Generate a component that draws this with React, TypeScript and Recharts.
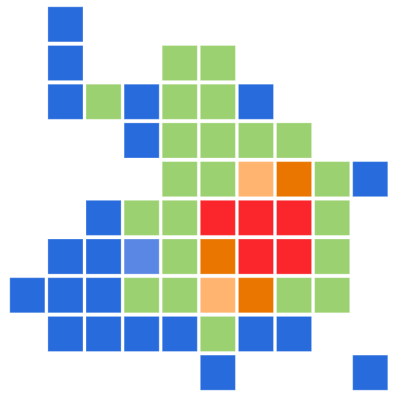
import { ScatterChart, Scatter, XAxis, YAxis } from "recharts";

// grid cells: column, row (row 0 = top), density level
const cols = [
  1,
  1, 4, 5,
  1, 2, 3, 4, 5, 6,
  3, 4, 5, 6, 7,
  4, 5, 6, 7, 8, 9,
  2, 3, 4, 5, 6, 7, 8,
  1, 2, 3, 4, 5, 6, 7, 8,
  0, 1, 2, 3, 4, 5, 6, 7, 8,
  1, 2, 3, 4, 5, 6, 7,
  5, 9,
];
const rows = [
  0,
  1, 1, 1,
  2, 2, 2, 2, 2, 2,
  3, 3, 3, 3, 3,
  4, 4, 4, 4, 4, 4,
  5, 5, 5, 5, 5, 5, 5,
  6, 6, 6, 6, 6, 6, 6, 6,
  7, 7, 7, 7, 7, 7, 7, 7, 7,
  8, 8, 8, 8, 8, 8, 8,
  9, 9,
];
const levels = [
  1,
  1, 3, 3,
  1, 3, 1, 3, 3, 1,
  1, 3, 3, 3, 3,
  3, 3, 4, 5, 3, 1,
  1, 3, 3, 6, 6, 6, 3,
  1, 1, 2, 3, 5, 6, 6, 3,
  1, 1, 1, 3, 3, 4, 5, 3, 3,
  1, 1, 1, 1, 3, 1, 1,
  1, 1,
];

const levelColors: Record<number, string> = {
  1: "#276BDC",
  2: "#5B87E4",
  3: "#9BD170",
  4: "#FFB570",
  5: "#EA7600",
  6: "#FA262C",
};

const data = cols.map((c, i) => ({ x: c, y: rows[i], level: levels[i] }));

const W = 400;
const H = 400;
const margin = { top: 5, right: 10.7, bottom: 8, left: 8.3 };
const stepX = (W - margin.left - margin.right) / 10;
const stepY = (H - margin.top - margin.bottom) / 10;
const GAP = 3;

const Cell = (props: any) => {
  const { cx, cy, payload } = props;
  const w = stepX - GAP;
  const h = stepY - GAP - 0.6;
  return (
    <rect
      x={cx - w / 2}
      y={cy - h / 2}
      width={w}
      height={h}
      fill={levelColors[payload.level]}
      stroke="rgba(255,255,255,0.3)"
      strokeWidth={1}
    />
  );
};

export default function App() {
  return (
    <div style={{ position: "absolute", left: 0, top: 0, width: W, height: H }}>
      <ScatterChart width={W} height={H} margin={margin}>
        <XAxis type="number" dataKey="x" domain={[-0.5, 9.5]} hide />
        <YAxis type="number" dataKey="y" domain={[-0.5, 9.5]} reversed hide />
        <Scatter data={data} shape={<Cell />} isAnimationActive={false} />
      </ScatterChart>
    </div>
  );
}
